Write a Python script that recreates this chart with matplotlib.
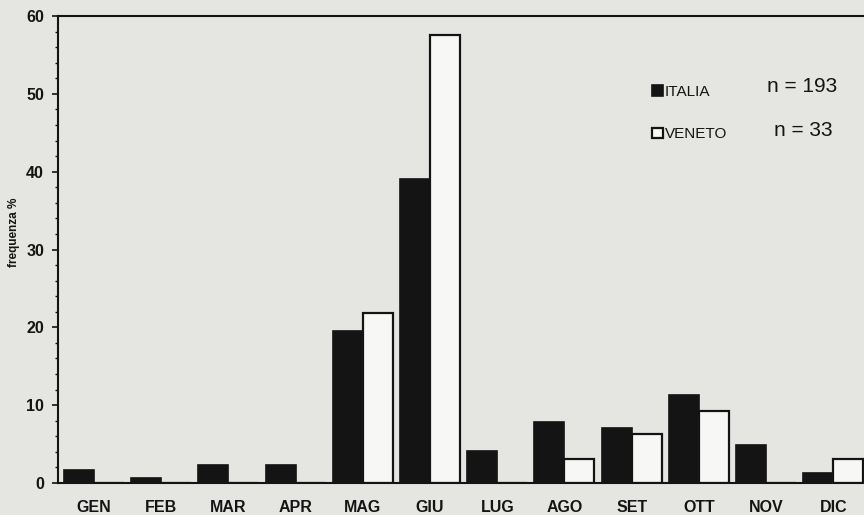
import matplotlib
matplotlib.use("Agg")
import matplotlib.pyplot as plt
import numpy as np

plt.rcParams['font.family'] = ['Liberation Sans', 'DejaVu Sans']

# months and monthly frequency (%)
mesi = ['GEN', 'FEB', 'MAR', 'APR', 'MAG', 'GIU', 'LUG', 'AGO', 'SET', 'OTT', 'NOV', 'DIC']
italia = [1.7, 0.6, 2.3, 2.3, 19.5, 39.0, 4.1, 7.9, 7.1, 11.3, 4.9, 1.3]
veneto = [0, 0, 0, 0, 21.8, 57.6, 0, 3.1, 6.3, 9.3, 0, 3.1]
n_italia = 193
n_veneto = 33

paper = '#e5e5e2'

fig = plt.figure(figsize=(8.64, 5.15), dpi=100, facecolor=paper)
ax = fig.add_axes([58/864, 1 - 483/515, 1 - 58/864, (483 - 16)/515])
ax.set_facecolor(paper)

x = np.arange(len(mesi))
w = 0.446
b1 = ax.bar(x - w/2, italia, w, color='#141414', edgecolor='#141414', linewidth=1.2, label='ITALIA')
b2 = ax.bar(x + w/2, veneto, w, color='#f7f7f5', edgecolor='#141414', linewidth=1.6, label='VENETO')

ax.set_xlim(-0.536, 11.457)
ax.set_ylim(0, 60)

ax.spines['right'].set_visible(False)
for s in ['left', 'top', 'bottom']:
    ax.spines[s].set_linewidth(1.5)
    ax.spines[s].set_color('#141414')

ax.set_xticks(x)
ax.set_xticklabels(mesi, fontsize=11.5, fontweight='bold', color='#141414')
ax.tick_params(axis='x', length=0, pad=12)

ax.set_yticks(np.arange(0, 61, 10))
ax.set_yticks(np.arange(0, 61, 2), minor=True)
ax.tick_params(axis='y', which='major', length=4, width=1.2, pad=6, labelsize=11.5, colors='#141414')
ax.tick_params(axis='y', which='minor', length=2.5, width=1.0, colors='#141414')
for t in ax.get_yticklabels():
    t.set_fontweight('bold')

fig.text(14/864, 1 - 232/515, 'frequenza %', rotation=90, ha='center', va='center',
         fontsize=8.5, fontweight='bold', color='#141414')

leg = ax.legend(handles=[b1, b2], loc='upper left', bbox_to_anchor=(652/864, 1 - 85/515),
                bbox_transform=fig.transFigure, frameon=False, fontsize=11,
                handlelength=0.7, handleheight=0.7, handletextpad=0.15,
                labelspacing=1.85, borderpad=0, borderaxespad=0)
for t in leg.get_texts():
    t.set_color('#141414')

fig.text(802/864, 1 - 87/515, 'n = %d' % n_italia, ha='center', va='center', fontsize=15, color='#141414')
fig.text(803/864, 1 - 131/515, 'n = %d' % n_veneto, ha='center', va='center', fontsize=15, color='#141414')

fig.savefig('out.png', dpi=100, facecolor=paper)
